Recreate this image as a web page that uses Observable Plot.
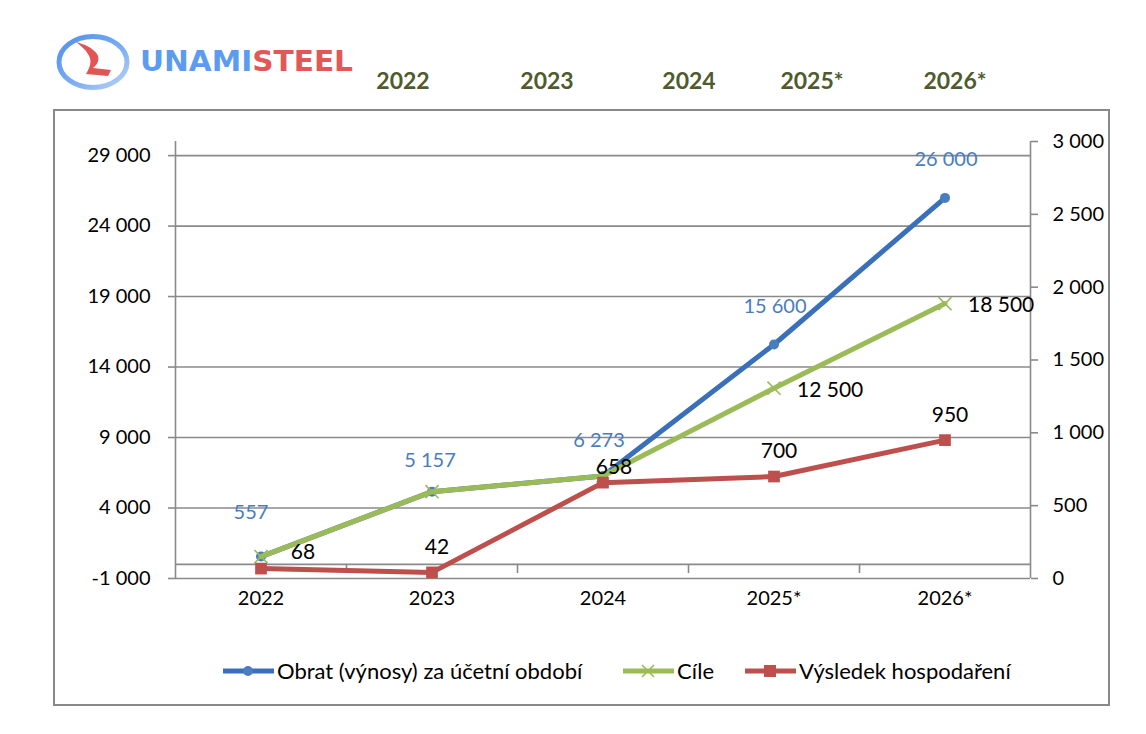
<!DOCTYPE html>
<html>
<head>
<meta charset="utf-8">
<script src="https://cdn.jsdelivr.net/npm/d3@7"></script>
<script src="https://cdn.jsdelivr.net/npm/@observablehq/plot@0.6"></script>
<style>
  html, body { margin: 0; padding: 0; background: #fff; }
  #page { position: relative; width: 1146px; height: 734px; font-family: Lato, "Open Sans", sans-serif; overflow: hidden; }
  #frame { position: absolute; left: 53px; top: 109px; width: 1057px; height: 597px; border: 2px solid #898989; box-sizing: border-box; }
  #chart { position: absolute; left: 0; top: 110px; }
  .topyear { position: absolute; top: 66px; font-family: Lato, sans-serif; font-weight: 700; font-size: 23px; color: #4f5b2c; transform: translateX(-50%); white-space: nowrap; }
  .legitem { position: absolute; top: 657px; display: flex; align-items: center; font-size: 22px; color: #000; white-space: nowrap; }
  .legitem svg { margin-right: 3px; }
</style>
</head>
<body>
<div id="page">
  <svg id="logo" width="370" height="100" style="position:absolute;left:0;top:0">
    <defs>
      <linearGradient id="ring" x1="0" y1="0" x2="1" y2="1">
        <stop offset="0" stop-color="#4f8fea"/>
        <stop offset="0.6" stop-color="#7fb0f2"/>
        <stop offset="1" stop-color="#b9d3f7"/>
      </linearGradient>
    </defs>
    <ellipse cx="93" cy="62" rx="34" ry="25.5" fill="none" stroke="url(#ring)" stroke-width="5"/>
    <path d="M76,42 C84,44 93,48 97,54 C100,59 98,64 93,68 L111,70 L108,76 L86,74 C91,66 92,60 88,54 C85,49 81,46 76,42 Z" fill="#e35454"/>
    <text x="140" y="71" font-family="DejaVu Sans" font-weight="bold" font-size="28" textLength="213" lengthAdjust="spacingAndGlyphs"><tspan fill="#5b9cf0">UNAMI</tspan><tspan fill="#e35757">STEEL</tspan></text>
  </svg>
  <div id="frame"></div>
  <div id="chart"></div>
</div>
<script>
// ---- data ----
const categories = ["2022", "2023", "2024", "2025*", "2026*"];
const obrat = [557, 5157, 6273, 15600, 26000];       // Obrat (výnosy) za účetní období – left axis
const cile = [557, 5157, 6273, 12500, 18500];        // Cíle – left axis
const vysledek = [68, 42, 658, 700, 950];            // Výsledek hospodaření – right axis
const leftTicks = [-1000, 4000, 9000, 14000, 19000, 24000, 29000];
const rightTicks = [0, 500, 1000, 1500, 2000, 2500, 3000];
const topYears = ["2022", "2023", "2024", "2025*", "2026*"];
const legendLabels = ["Obrat (výnosy) za účetní období", "Cíle", "Výsledek hospodaření"];

// ---- styling ----
const BLUE = "#3a6fb9", BLUE_LABEL = "#4a7dbd", GREEN = "#9bbb59", RED = "#bd4f4c", GRID = "#8a8a8a";
const leftDomain = [-1000, 30000], rightDomain = [0, 3000];
const toLeft = v => leftDomain[0] + (v - rightDomain[0]) * (leftDomain[1] - leftDomain[0]) / (rightDomain[1] - rightDomain[0]);
const fromLeft = v => rightDomain[0] + (v - leftDomain[0]) * (rightDomain[1] - rightDomain[0]) / (leftDomain[1] - leftDomain[0]);
const loc = d3.formatLocale({decimal: ",", thousands: "\u00a0", grouping: [3], minus: "-"});
const fmt = loc.format(",d");

const idx = d3.range(categories.length);
const rows = idx.map(i => ({i, cat: categories[i], obrat: obrat[i], cile: cile[i], vys: vysledek[i], vysL: toLeft(vysledek[i])}));
const boundaries = d3.range(categories.length + 1).map(i => i - 0.5);
const pick = (arr) => rows.filter(r => arr.includes(r.i));

const chart = Plot.plot({
  width: 1146,
  height: 520,
  marginLeft: 175,
  marginRight: 116,
  marginTop: 31,
  marginBottom: 52,
  style: {fontFamily: "Lato, 'Open Sans', sans-serif", fontSize: "20px", color: "#000", background: "transparent"},
  x: {type: "linear", domain: [-0.5, categories.length - 0.5], axis: null},
  y: {domain: leftDomain, axis: null},
  marks: [
    Plot.ruleY(leftTicks, {stroke: GRID, strokeWidth: 1.6}),
    Plot.ruleY([0], {stroke: GRID, strokeWidth: 1.6}),
    Plot.ruleX([boundaries[0], boundaries[boundaries.length - 1]], {stroke: GRID, strokeWidth: 1.6}),
    Plot.ruleX(boundaries.slice(1, -1), {y1: 0, y2: -650, stroke: GRID, strokeWidth: 1.6}),
    Plot.axisY(leftTicks, {anchor: "left", label: null, tickSize: 7, tickPadding: 18, tickFormat: fmt, stroke: GRID, strokeWidth: 1.6, fill: "#000", fontSize: 20}),
    Plot.axisY(rightTicks.map(toLeft), {anchor: "right", label: null, tickSize: 7, tickPadding: 15, tickFormat: d => fmt(Math.round(fromLeft(d))), stroke: GRID, strokeWidth: 1.6, fill: "#000", fontSize: 20}),
    Plot.axisX(idx, {anchor: "bottom", label: null, tickSize: 0, tickPadding: 12, tickFormat: i => categories[i], fill: "#000", fontSize: 20}),
    // Obrat
    Plot.line(rows, {x: "i", y: "obrat", stroke: BLUE, strokeWidth: 5}),
    Plot.dot(rows, {x: "i", y: "obrat", r: 5, fill: BLUE_LABEL, stroke: null}),
    // Cíle
    Plot.line(rows, {x: "i", y: "cile", stroke: GREEN, strokeWidth: 5}),
    Plot.dot(rows, {x: "i", y: "cile", symbol: "times", r: 6, stroke: GREEN, strokeWidth: 1.6}),
    // Výsledek
    Plot.line(rows, {x: "i", y: "vysL", stroke: RED, strokeWidth: 5}),
    Plot.dot(rows, {x: "i", y: "vysL", symbol: "square", r: 6.6, fill: RED, stroke: null}),
    // labels – Obrat
    Plot.text(pick([0]), {x: "i", y: "obrat", text: d => fmt(d.obrat), dx: -10, dy: -44, fill: BLUE_LABEL, fontSize: 20}),
    Plot.text(pick([1]), {x: "i", y: "obrat", text: d => fmt(d.obrat), dx: -2, dy: -31, fill: BLUE_LABEL, fontSize: 20}),
    Plot.text(pick([2]), {x: "i", y: "obrat", text: d => fmt(d.obrat), dx: -4, dy: -35, fill: BLUE_LABEL, fontSize: 20}),
    Plot.text(pick([3, 4]), {x: "i", y: "obrat", text: d => fmt(d.obrat), dx: 1, dy: -38, fill: BLUE_LABEL, fontSize: 20}),
    // labels – Cíle
    Plot.text(pick([3, 4]), {x: "i", y: "cile", text: d => fmt(d.cile), dx: 23, dy: 2, textAnchor: "start", fill: "#000", fontSize: 21}),
    // labels – Výsledek
    Plot.text(pick([0]), {x: "i", y: "vysL", text: d => fmt(d.vys), dx: 42, dy: -16, fill: "#000", fontSize: 21}),
    Plot.text(pick([2]), {x: "i", y: "vysL", text: d => fmt(d.vys), dx: 11, dy: -15, fill: "#000", fontSize: 21}),
    Plot.text(pick([1, 3, 4]), {x: "i", y: "vysL", text: d => fmt(d.vys), dx: 5, dy: -25, fill: "#000", fontSize: 21})
  ]
});
document.getElementById("chart").appendChild(chart);

// top year labels
const page = document.getElementById("page");
const topX = [403, 547, 689, 812, 955];
topYears.forEach((t, k) => {
  const s = document.createElement("div");
  s.className = "topyear";
  s.style.left = topX[k] + "px";
  s.textContent = t;
  page.appendChild(s);
});

// legend
const legColors = [BLUE, GREEN, RED];
const legLeft = [223, 623, 745];
const markerSvg = [
  c => `<circle cx="25" cy="10" r="5" fill="${BLUE_LABEL}"/>`,
  c => `<path d="M19,4 L31,16 M31,4 L19,16" stroke="${c}" stroke-width="1.6"/>`,
  c => `<rect x="19" y="4" width="12" height="12" fill="${c}"/>`
];
legendLabels.forEach((lab, k) => {
  const item = document.createElement("div");
  item.className = "legitem";
  item.style.left = legLeft[k] + "px";
  item.innerHTML = `<svg width="51" height="20"><line x1="0" y1="10" x2="51" y2="10" stroke="${legColors[k]}" stroke-width="5"/>${markerSvg[k](legColors[k])}</svg><span>${lab}</span>`;
  page.appendChild(item);
});
</script>
</body>
</html>
